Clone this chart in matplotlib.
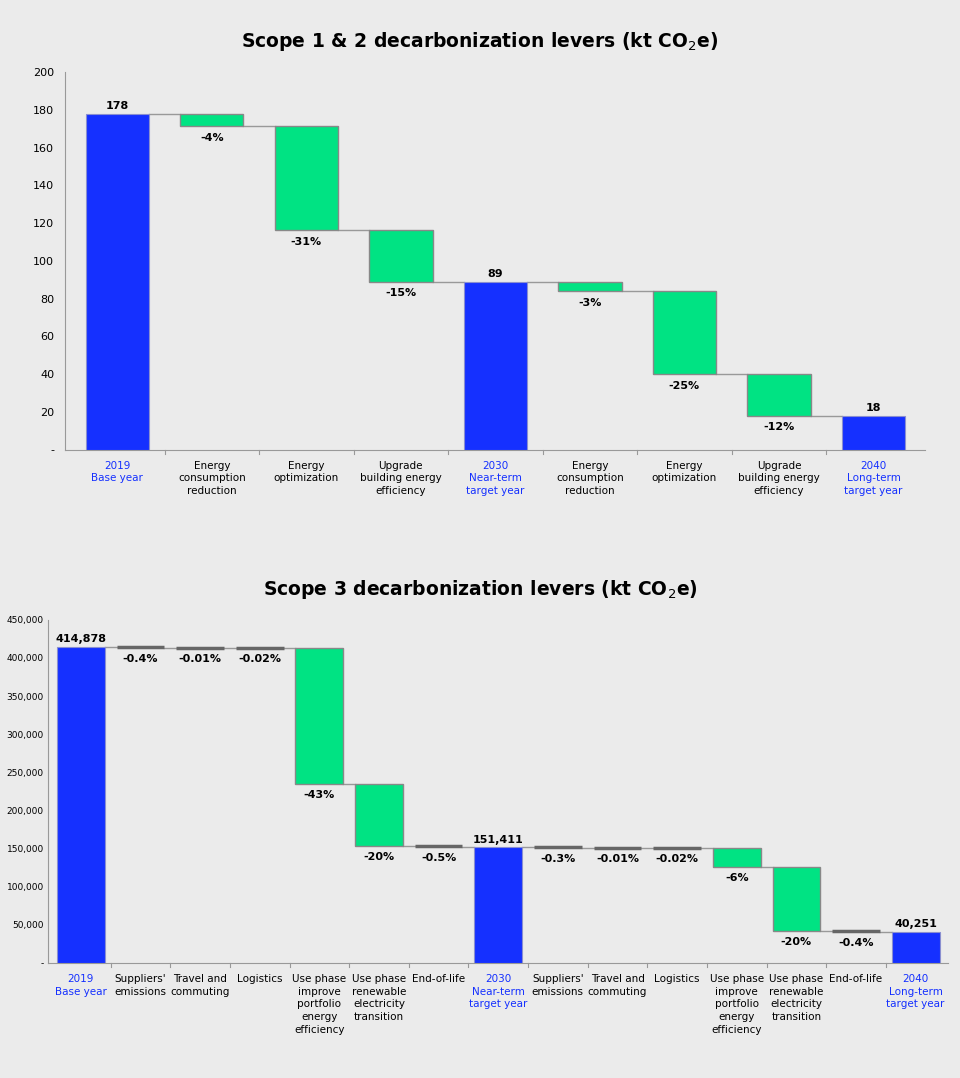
import matplotlib
matplotlib.use("Agg")
import matplotlib.pyplot as plt
from matplotlib.ticker import FuncFormatter

cats1 = ["2019\nBase year", "Energy\nconsumption\nreduction", "Energy\noptimization",
         "Upgrade\nbuilding energy\nefficiency", "2030\nNear-term\ntarget year",
         "Energy\nconsumption\nreduction", "Energy\noptimization",
         "Upgrade\nbuilding energy\nefficiency", "2040\nLong-term\ntarget year"]
vals1 = [178, -6.5, -55, -27.5, 89, -5, -44, -22, 18]
labs1 = ["178", "-4%", "-31%", "-15%", "89", "-3%", "-25%", "-12%", "18"]

cats3 = ["2019\nBase year", "Suppliers'\nemissions", "Travel and\ncommuting", "Logistics",
         "Use phase\nimprove\nportfolio\nenergy\nefficiency", "Use phase\nrenewable\nelectricity\ntransition",
         "End-of-life", "2030\nNear-term\ntarget year", "Suppliers'\nemissions", "Travel and\ncommuting",
         "Logistics", "Use phase\nimprove\nportfolio\nenergy\nefficiency",
         "Use phase\nrenewable\nelectricity\ntransition", "End-of-life", "2040\nLong-term\ntarget year"]
vals3 = [414878, -1660, -41, -83, -178400, -81211, -2073, 151411, -450, -15, -30, -25016, -83949, -1700, 40251]
labs3 = ["414,878", "-0.4%", "-0.01%", "-0.02%", "-43%", "-20%", "-0.5%", "151,411", "-0.3%",
         "-0.01%", "-0.02%", "-6%", "-20%", "-0.4%", "40,251"]

BG = "#ebebeb"
BLUE = "#1530ff"
GREEN = "#00e383"
fig = plt.figure(figsize=(9.6, 10.78), dpi=100, facecolor=BG)

def waterfall(ax, cats, vals, labs, ymax, step, fmt, fs_tick, thin, w, pad):
    ax.set_facecolor(BG)
    level = 0
    n = len(vals)
    for i, v in enumerate(vals):
        total = i == 0 or i == n - 1 or cats[i].startswith("2030")
        if total:
            ax.bar(i, v, width=w, color=BLUE, edgecolor="#8a8fd0", lw=0.8, zorder=3)
            ax.text(i, v + ymax * 0.008, labs[i], ha="center", va="bottom", fontsize=8, fontweight="bold")
            level = v
        else:
            new = level + v
            if abs(v) < thin:
                ax.bar(i, 0, bottom=level, width=w, color="#666666", edgecolor="#666666", lw=2.5, zorder=3)
            else:
                ax.bar(i, v, bottom=level, width=w, color=GREEN, edgecolor="#888888", lw=1, zorder=3)
            ax.text(i, new - ymax * 0.018, labs[i], ha="center", va="top", fontsize=8, fontweight="bold")
            level = new
        if i < n - 1:
            ax.plot([i + w / 2, i + 1 - w / 2], [level, level], color="#999999", lw=1, zorder=2)
    ax.set_xlim(-0.55, n - 0.45)
    ax.set_ylim(0, ymax)
    ax.set_yticks(range(0, int(ymax) + 1, step))
    ax.yaxis.set_major_formatter(FuncFormatter(lambda x, p: "-" if x == 0 else fmt(x)))
    ax.set_xticks(range(n))
    ax.set_xticklabels(cats, fontsize=7.5, linespacing=1.35)
    for i, t in enumerate(ax.get_xticklabels()):
        if cats[i][:2] == "20":
            t.set_color(BLUE)
    ax.tick_params(axis="y", labelsize=fs_tick, length=0, pad=pad)
    ax.tick_params(axis="x", length=0, pad=8)
    for s in ["top", "right"]:
        ax.spines[s].set_visible(False)
    for s in ["left", "bottom"]:
        ax.spines[s].set_color("#999999")
    for k in range(1, n):
        ax.plot([k - 0.5, k - 0.5], [0, -ymax * 0.012], color="#999999", lw=0.8, clip_on=False)

ax1 = fig.add_axes([0.068, 0.583, 0.896, 0.35])
waterfall(ax1, cats1, vals1, labs1, 200, 20, lambda x: f"{x:.0f}", 8, 0, 0.67, 8)
ax2 = fig.add_axes([0.05, 0.107, 0.938, 0.318])
waterfall(ax2, cats3, vals3, labs3, 450000, 50000, lambda x: f"{x:,.0f}", 6.5, 3000, 0.8, 3)

fig.text(0.5, 0.956, r"Scope 1 & 2 decarbonization levers (kt CO$_2$e)", ha="center", fontsize=13.5, fontweight="semibold")
fig.text(0.5, 0.448, r"Scope 3 decarbonization levers (kt CO$_2$e)", ha="center", fontsize=13.5, fontweight="semibold")
fig.savefig("out.png", dpi=100, facecolor=BG)
